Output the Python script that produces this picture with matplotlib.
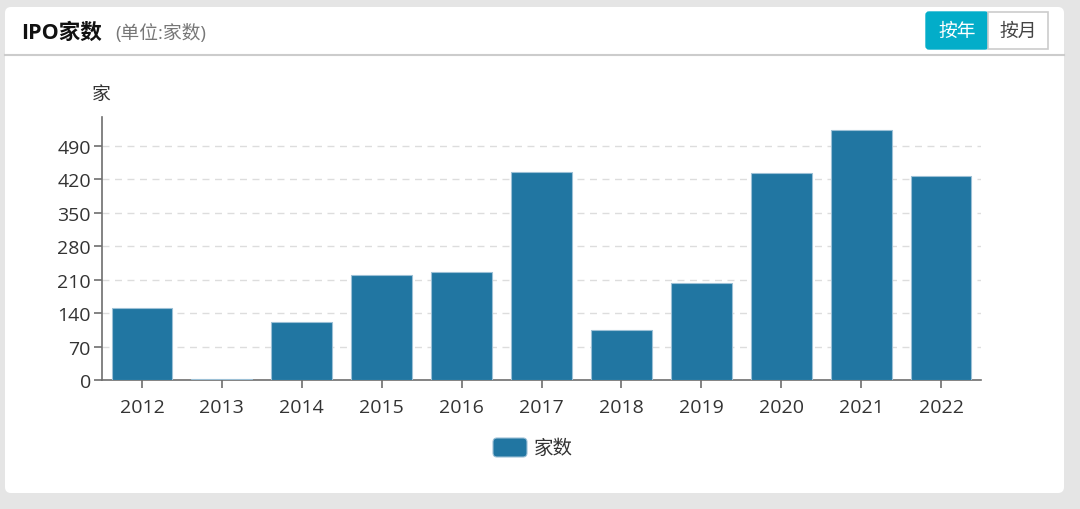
import matplotlib
matplotlib.use('Agg')
import matplotlib.pyplot as plt
from matplotlib.patches import FancyBboxPatch, Rectangle
import numpy as np

plt.rcParams['font.family'] = ['Open Sans', 'Noto Sans CJK SC', 'DejaVu Sans']

# data
years = ['2012', '2013', '2014', '2015', '2016', '2017', '2018', '2019', '2020', '2021', '2022']
counts = [150, 3, 121, 220, 226, 436, 105, 203, 433, 522, 426]
yticks = [0, 70, 140, 210, 280, 350, 420, 490]
title = 'IPO家数'
subtitle = '(单位:家数)'
unit_label = '家'
series_name = '家数'
buttons = ['按年', '按月']

bar_color = '#2176a2'
W, H = 1080, 510

fig = plt.figure(figsize=(W / 100, H / 100), dpi=100)
fig.patch.set_facecolor('#e5e5e5')

# background layer in pixel coordinates
bg = fig.add_axes([0, 0, 1, 1])
bg.set_xlim(0, W)
bg.set_ylim(H, 0)
bg.axis('off')

card = FancyBboxPatch((5, 8), 1059, 486, boxstyle='round,pad=0,rounding_size=6',
                      facecolor='white', edgecolor='none')
bg.add_patch(card)
bg.plot([5, 1064], [56, 56], color='#cccccc', lw=1.5)

bg.text(21, 33, title, fontsize=15.5, fontweight='bold', color='#111111', va='center', ha='left')
bg.text(115, 33, subtitle, fontsize=13.5, color='#777777', va='center', ha='left')

# buttons
bg.add_patch(FancyBboxPatch((926, 13), 62, 37, boxstyle='round,pad=0,rounding_size=3',
                            facecolor='#03adc9', edgecolor='#03adc9'))
bg.add_patch(Rectangle((988, 13), 60, 37, facecolor='white', edgecolor='#cccccc', lw=1.2))
bg.text(957, 32, buttons[0], fontsize=13.5, color='white', ha='center', va='center')
bg.text(1018, 32, buttons[1], fontsize=13.5, color='#444444', ha='center', va='center')

# unit label
bg.text(101, 95, unit_label, fontsize=13.5, color='#333333', ha='center', va='center')

# legend
bg.add_patch(FancyBboxPatch((493, 439), 34, 19, boxstyle='round,pad=0,rounding_size=4',
                            facecolor=bar_color, edgecolor='#9cc0d6', lw=0.8))
bg.text(534, 448.5, series_name, fontsize=14, color='#333333', ha='left', va='center')

# chart axes
left, right, top, bottom = 102, 981, 118, 381.3
ax = fig.add_axes([left / W, 1 - bottom / H, (right - left) / W, (bottom - top) / H])
ax.patch.set_alpha(0)

x = np.arange(len(years))
ax.bar(x, counts, width=0.76, color=bar_color, edgecolor='#9cc0d6', linewidth=0.8, zorder=3)

ax.set_xlim(-0.5, len(years) - 0.5)
ax.set_ylim(0, 550)
ax.set_xticks(x)
ax.set_xticklabels(years)
ax.set_yticks(yticks)
ax.set_yticklabels([str(v) for v in yticks])

for v in yticks[1:]:
    ax.axhline(v, color='#dddddd', lw=1, ls=(0, (5, 4)), zorder=1)

for s in ['top', 'right']:
    ax.spines[s].set_visible(False)
for s in ['left', 'bottom']:
    ax.spines[s].set_color('#6e6e6e')
    ax.spines[s].set_linewidth(1.2)

ax.tick_params(axis='both', colors='#6e6e6e', labelcolor='#333333', labelsize=14, length=6, width=1.2)
ax.tick_params(axis='x', pad=7)
ax.tick_params(axis='y', pad=2)

fig.savefig('out.png', dpi=100, facecolor=fig.get_facecolor())
